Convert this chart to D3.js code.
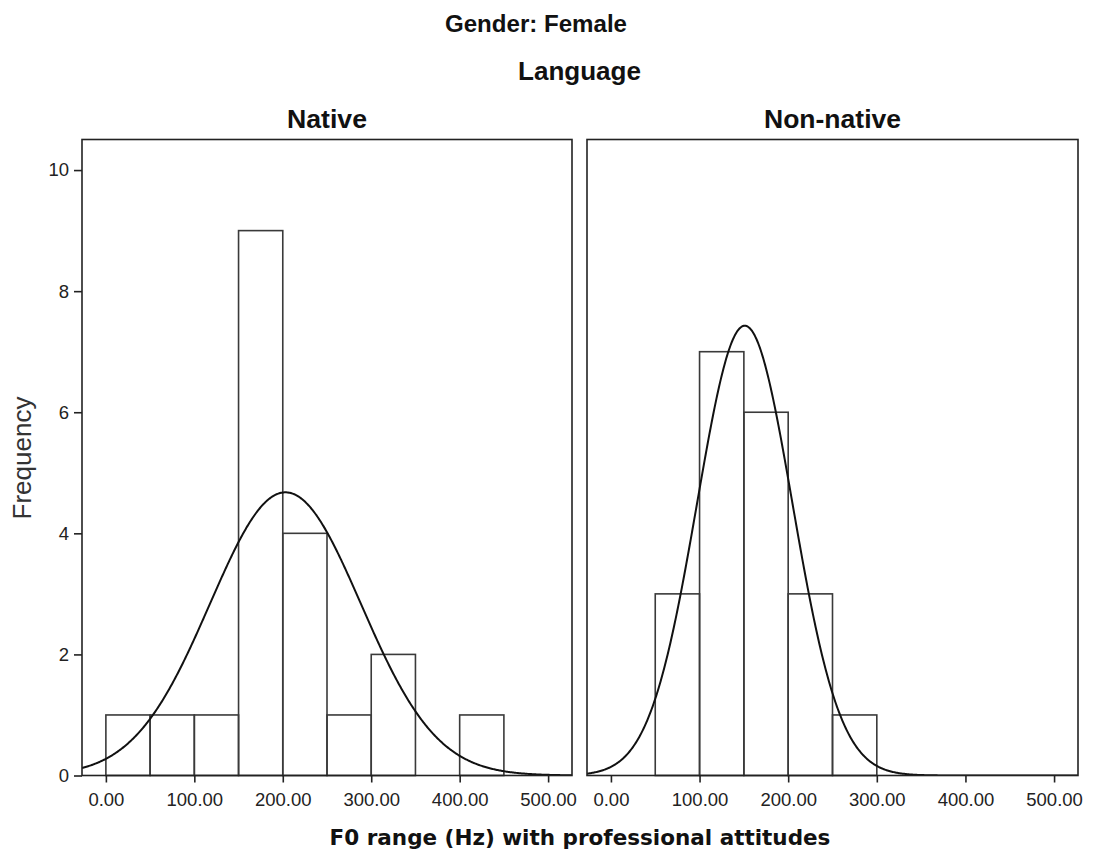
<!DOCTYPE html>
<html>
<head>
<meta charset="utf-8">
<script src="https://cdn.jsdelivr.net/npm/d3@7"></script>
<style>
  html, body { margin: 0; padding: 0; background: #fff; }
  svg { display: block; }
  .title { font-family: "Liberation Sans Narrow", "Arial Narrow", "Liberation Sans", Arial, sans-serif; font-weight: bold; }
</style>
</head>
<body>
<svg id="chart" width="1093" height="860"></svg>
<script>
// Histogram of F0 range (Hz) by language group, female speakers
const panels = ["Native", "Non-native"];
const binStarts = [0, 50, 100, 150, 200, 250, 300, 350, 400];
const binWidth = 50;
const nativeCounts = [1, 1, 1, 9, 4, 1, 2, 0, 1];
const nonNativeCounts = [0, 3, 7, 6, 3, 1, 0, 0, 0];
// Fitted normal curve parameters per panel
const fitMeans = [203, 151];
const fitSDs = [85.3, 53.7];
const xTicks = [0, 100, 200, 300, 400, 500];
const yTicks = [0, 2, 4, 6, 8, 10];

const countsByPanel = [nativeCounts, nonNativeCounts];

const svg = d3.select("#chart");
const plotTop = 139.5, plotBottom = 775.5;
const panelX = [[82, 572], [587, 1078]];
const xDomain = [-27, 527];
const tickFont = "'Liberation Sans', Arial, sans-serif";

const y = d3.scaleLinear().domain([0, 10.5]).range([plotBottom, plotTop + 0.3]);

// Bold heading, fitted to a set width
function heading(txt, cx, baseline, size, width) {
  return svg.append("text").attr("class", "title")
    .attr("x", cx - width / 2).attr("y", baseline)
    .attr("font-size", size).attr("fill", "#111")
    .attr("textLength", width).attr("lengthAdjust", "spacingAndGlyphs")
    .text(txt);
}

heading("Gender: Female", 536, 32, 24, 182);
heading("Language", 579.5, 80, 26, 123);

panels.forEach((name, i) => {
  const [x0, x1] = panelX[i];
  const x = d3.scaleLinear().domain(xDomain).range([x0, x1]);
  const g = svg.append("g");
  const counts = countsByPanel[i];
  const n = d3.sum(counts);

  heading(name, (x0 + x1) / 2, 128, 26.5, i === 0 ? 80 : 137);

  const clipId = "clip" + i;
  svg.append("clipPath").attr("id", clipId)
    .append("rect").attr("x", x0).attr("y", plotTop).attr("width", x1 - x0).attr("height", plotBottom - plotTop);

  // Bars
  g.selectAll("rect.bar")
    .data(binStarts.map((s, k) => ({ s, c: counts[k] })).filter(d => d.c > 0))
    .join("rect")
    .attr("class", "bar")
    .attr("x", d => x(d.s))
    .attr("y", d => y(d.c))
    .attr("width", d => x(d.s + binWidth) - x(d.s))
    .attr("height", d => y(0) - y(d.c))
    .attr("fill", "none")
    .attr("stroke", "#3a3a3a")
    .attr("stroke-width", 1.6);

  // Normal curve scaled to counts
  const mu = fitMeans[i], sd = fitSDs[i];
  const curve = d3.range(xDomain[0], xDomain[1] + 1, 1).map(v => [
    v, n * binWidth * Math.exp(-((v - mu) ** 2) / (2 * sd * sd)) / (sd * Math.sqrt(2 * Math.PI))
  ]);
  g.append("path")
    .datum(curve)
    .attr("clip-path", `url(#${clipId})`)
    .attr("fill", "none")
    .attr("stroke", "#111")
    .attr("stroke-width", 2)
    .attr("d", d3.line().x(d => x(d[0])).y(d => y(d[1])));

  // Frame
  g.append("rect")
    .attr("x", x0).attr("y", plotTop)
    .attr("width", x1 - x0).attr("height", plotBottom - plotTop)
    .attr("fill", "none").attr("stroke", "#222").attr("stroke-width", 1.6);

  // X axis
  const xAxis = d3.axisBottom(x).tickValues(xTicks).tickFormat(d3.format(".2f"))
    .tickSizeInner(7).tickSizeOuter(0).tickPadding(10);
  const ax = svg.append("g").attr("transform", `translate(0,${plotBottom})`).call(xAxis);
  ax.select(".domain").remove();
  ax.selectAll("line").attr("stroke", "#222").attr("stroke-width", 1.6);
  ax.selectAll("text").attr("font-family", tickFont)
    .attr("font-size", 18.5).attr("fill", "#222");

  if (i === 0) {
    const yAxis = d3.axisLeft(y).tickValues(yTicks).tickSizeInner(8).tickSizeOuter(0).tickPadding(5);
    const ay = svg.append("g").attr("transform", `translate(${x0},0)`).call(yAxis);
    ay.select(".domain").remove();
    ay.selectAll("line").attr("stroke", "#222").attr("stroke-width", 1.6);
    ay.selectAll("text").attr("font-family", tickFont)
      .attr("font-size", 18.5).attr("fill", "#222");
  }
});

// Axis titles
svg.append("text")
  .attr("transform", "translate(31,458) rotate(-90)")
  .attr("text-anchor", "middle")
  .attr("font-family", tickFont)
  .attr("font-size", 26).attr("fill", "#333").text("Frequency");

svg.append("text")
  .attr("x", 580).attr("y", 845).attr("text-anchor", "middle")
  .attr("font-family", "'DejaVu Sans', Verdana, sans-serif")
  .attr("font-weight", "bold")
  .attr("font-size", 21.5).attr("fill", "#111")
  .text("F0 range (Hz) with professional attitudes");
</script>
</body>
</html>
